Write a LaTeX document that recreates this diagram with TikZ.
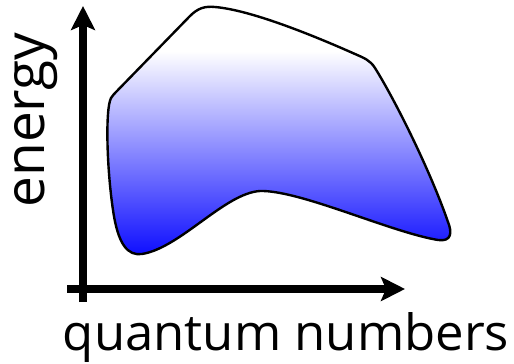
\documentclass[tikz,border=0pt]{standalone}
\usepackage{fontspec}
\setmainfont{Open Sans}
\usetikzlibrary{arrows.meta}
\colorlet{blobbot}{blue!95!white}
\pgfdeclareverticalshading{blobshade}{100bp}{color(0bp)=(blobbot); color(25bp)=(blobbot); color(66bp)=(white); color(100bp)=(white)}
\tikzset{
  axis/.style={line width=7.5pt, -{Stealth[length=24pt,width=24pt,inset=5pt]}},
  blob/.style={draw=black, line width=2.4pt, shading=blobshade},
  lbl/.style={inner sep=0pt, anchor=base}
}
\begin{document}
\begin{tikzpicture}[x=1pt,y=-1pt]
\useasboundingbox (0,0) rectangle (514,364);
% shaded region
\path[blob] (111,98) .. controls (105,110) and (107,170) .. (113,210)
  .. controls (118,245) and (128,256) .. (142,254)
  .. controls (180,248) and (225,193) .. (260,191)
  .. controls (300,190) and (390,232) .. (438,240)
  .. controls (452,242) and (452,232) .. (448,222)
  .. controls (430,170) and (395,100) .. (375,68)
  .. controls (370,60) and (364,58) .. (355,54)
  .. controls (310,34) and (250,10) .. (215,7)
  .. controls (205,6) and (198,8) .. (190,16)
  -- (116,92) .. controls (114,94) .. cycle;
% axes
\coordinate (ybot) at (83,302);
\coordinate (ytop) at (83,6);
\coordinate (xleft) at (67,289);
\coordinate (xright) at (405,289);
\draw[axis] (ybot) -- (ytop);
\draw[axis] (xleft) -- (xright);
% labels
\node[lbl] (xl) at (286,350) {\resizebox{446pt}{38pt}{quantum numbers}};
\node[lbl, rotate=90] (yl) at (44,120) {\resizebox{175pt}{30pt}{energy}};
\end{tikzpicture}
\end{document}
